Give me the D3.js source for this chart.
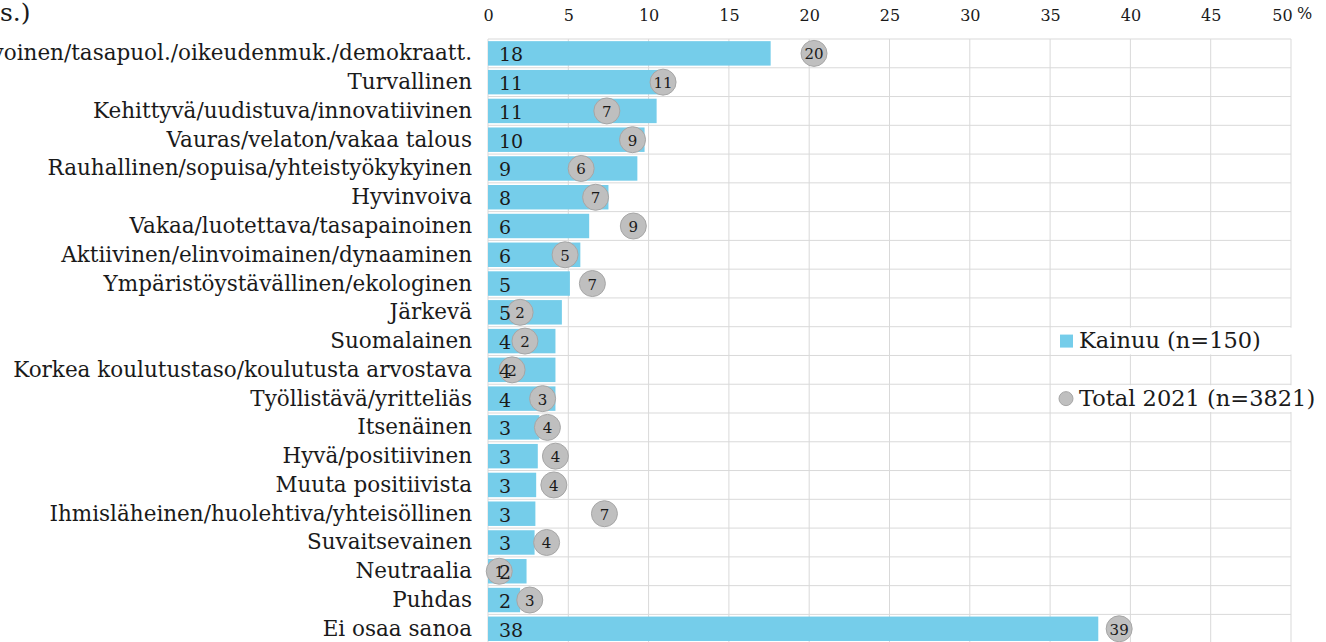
<!DOCTYPE html>
<html>
<head>
<meta charset="utf-8">
<script src="https://cdn.jsdelivr.net/npm/d3@7"></script>
<style>
  html, body { margin: 0; padding: 0; background: #fff; }
  svg { display: block; }
  text { font-family: Georgia, "DejaVu Serif", serif; fill: #1a1a1a; }
</style>
</head>
<body>
<svg id="chart" width="1326" height="642"></svg>
<script>
const categories = [
  "Tasa-arvoinen/tasapuol./oikeudenmuk./demokraatt.",
  "Turvallinen",
  "Kehittyvä/uudistuva/innovatiivinen",
  "Vauras/velaton/vakaa talous",
  "Rauhallinen/sopuisa/yhteistyökykyinen",
  "Hyvinvoiva",
  "Vakaa/luotettava/tasapainoinen",
  "Aktiivinen/elinvoimainen/dynaaminen",
  "Ympäristöystävällinen/ekologinen",
  "Järkevä",
  "Suomalainen",
  "Korkea koulutustaso/koulutusta arvostava",
  "Työllistävä/yritteliäs",
  "Itsenäinen",
  "Hyvä/positiivinen",
  "Muuta positiivista",
  "Ihmisläheinen/huolehtiva/yhteisöllinen",
  "Suvaitsevainen",
  "Neutraalia",
  "Puhdas",
  "Ei osaa sanoa"
];
const kainuu = [17.6, 10.6, 10.5, 9.75, 9.3, 7.5, 6.3, 5.75, 5.1, 4.6, 4.2, 4.2, 4.2, 3.2, 3.1, 3.0, 2.95, 2.9, 2.4, 2.0, 38.0];
const total2021 = [20.3, 10.9, 7.4, 9.0, 5.8, 6.7, 9.05, 4.8, 6.5, 2.0, 2.3, 1.5, 3.4, 3.7, 4.2, 4.1, 7.25, 3.65, 0.7, 2.6, 39.3];
const xTicks = [0, 5, 10, 15, 20, 25, 30, 35, 40, 45, 50];
const legendLabels = ["Kainuu (n=150)", "Total 2021 (n=3821)"];
const titleFragment = "s.)";

const barColor = "#75cdea";
const dotFill = "#bfbfbf";
const dotStroke = "#a6a6a6";
const gridColor = "#d9d9d9";

const svg = d3.select("#chart");
const x = d3.scaleLinear().domain([0, 50]).range([488, 1291]);
const rowTop = 39, rowStep = 28.77;
const yRow = d3.scaleBand().domain(categories).range([rowTop, rowTop + rowStep * categories.length]).padding(0);
const yBar = d3.scaleBand().domain(categories).range(yRow.range()).paddingInner(0.15).paddingOuter(0.075);

const data = categories.map((c, i) => ({c, k: kainuu[i], t: total2021[i]}));

// grid
const grid = svg.append("g");
grid.selectAll("line.v").data(xTicks).join("line")
  .attr("x1", d => x(d)).attr("x2", d => x(d))
  .attr("y1", rowTop).attr("y2", 642)
  .attr("stroke", gridColor).attr("stroke-width", 1);
const hLines = categories.map(c => yRow(c));
grid.selectAll("line.h").data(hLines).join("line")
  .attr("x1", x(0)).attr("x2", x(50))
  .attr("y1", d => d).attr("y2", d => d)
  .attr("stroke", gridColor).attr("stroke-width", 1);

// top axis
const axis = d3.axisTop(x).tickValues(xTicks).tickSize(0).tickPadding(0).tickFormat(d => d);
const ax = svg.append("g").attr("transform", "translate(0,21)").call(axis);
ax.select(".domain").remove();
ax.selectAll("text").attr("font-size", 16).attr("fill", "#1a1a1a").attr("dy", 0)
  .attr("dx", d => d === 50 ? -9 : 0)
  .style("font-family", 'Georgia, "DejaVu Serif", serif');
svg.append("text").attr("x", x(50) + 6).attr("y", 19).attr("font-size", 16).text("%");

// title fragment
svg.append("text").attr("x", 0).attr("y", 21).attr("font-size", 25).text(titleFragment);

// category labels
svg.append("g").selectAll("text").data(data).join("text")
  .attr("x", 472).attr("y", d => yRow(d.c) + yRow.bandwidth() / 2 + 7)
  .attr("text-anchor", "end").attr("font-size", 21.5).text(d => d.c);

// bars
svg.append("g").selectAll("rect").data(data).join("rect")
  .attr("x", x(0)).attr("y", d => yBar(d.c))
  .attr("width", d => x(d.k) - x(0)).attr("height", yBar.bandwidth())
  .attr("fill", barColor);

// dots
svg.append("g").selectAll("circle").data(data).join("circle")
  .attr("cx", d => x(d.t)).attr("cy", d => yRow(d.c) + yRow.bandwidth() / 2)
  .attr("r", 13).attr("fill", dotFill).attr("stroke", dotStroke).attr("stroke-width", 1);

// bar labels (drawn over dots, as in reference)
svg.append("g").selectAll("text").data(data).join("text")
  .attr("x", 499).attr("y", d => yRow(d.c) + yRow.bandwidth() / 2 + 8)
  .attr("font-size", 19).text(d => Math.round(d.k));

// dot labels
svg.append("g").selectAll("text").data(data).join("text")
  .attr("x", d => x(d.t)).attr("y", d => yRow(d.c) + yRow.bandwidth() / 2 + 6)
  .attr("text-anchor", "middle").attr("font-size", 15).text(d => Math.round(d.t));

// legend
const lg = svg.append("g");
const legendRows = [10, 12];
legendRows.forEach((ri, i) => {
  const top = yRow(categories[ri]);
  lg.append("rect").attr("x", 1053).attr("y", top + 1).attr("width", 273).attr("height", rowStep - 2).attr("fill", "#fff");
  const cy = top + rowStep / 2;
  if (i === 0) {
    lg.append("rect").attr("x", 1060).attr("y", cy - 6.5).attr("width", 13).attr("height", 13).attr("fill", barColor);
  } else {
    lg.append("circle").attr("cx", 1066).attr("cy", cy).attr("r", 7).attr("fill", dotFill).attr("stroke", dotStroke);
  }
  lg.append("text").attr("x", 1079).attr("y", cy + 7).attr("font-size", 22.5).text(legendLabels[i]);
});
</script>
</body>
</html>
